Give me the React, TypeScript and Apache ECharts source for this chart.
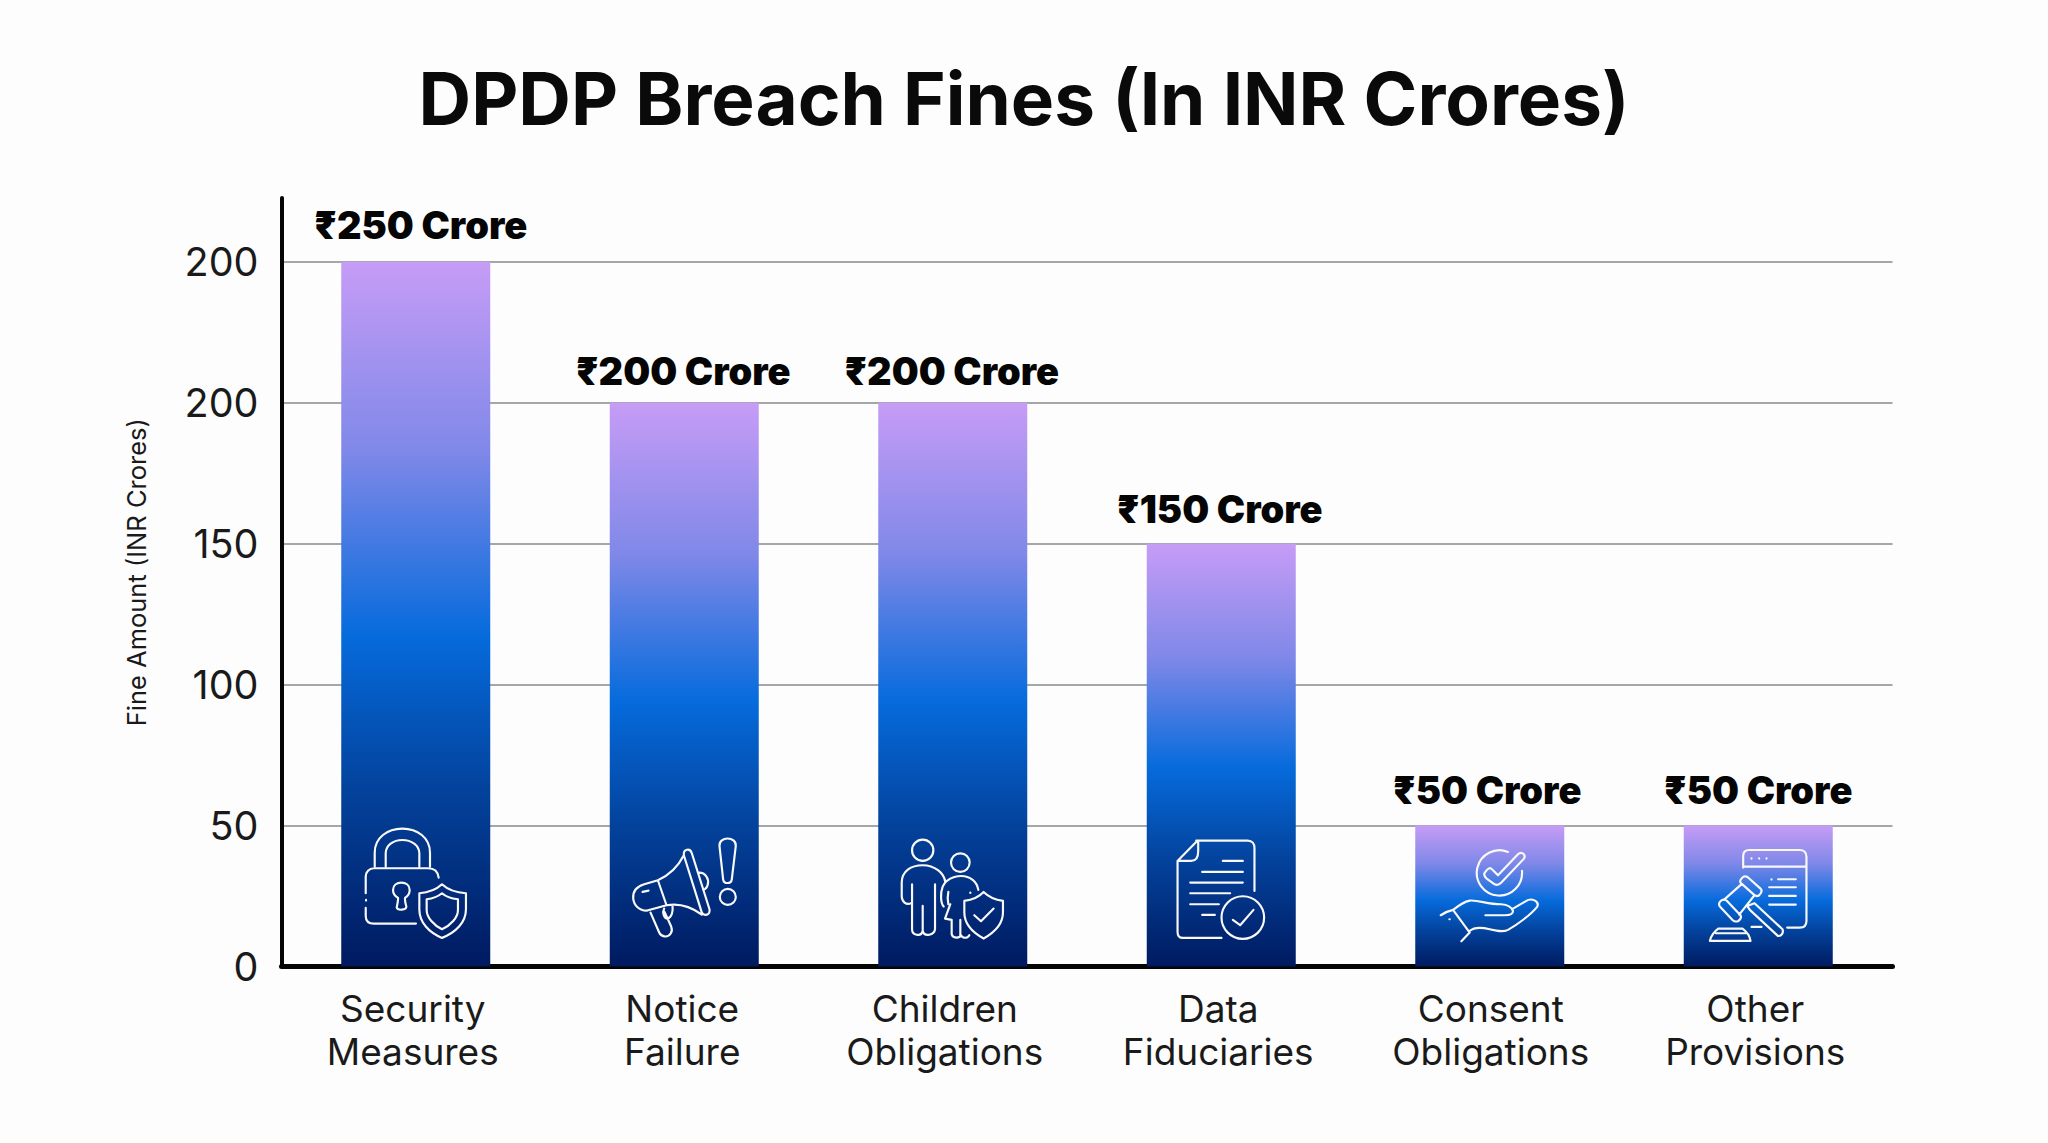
import React, { useEffect, useRef } from "react";
import * as echarts from "echarts";

const titleText = "DPDP Breach Fines (In INR Crores)";
const yAxisTitle = "Fine Amount (INR Crores)";
const categories = [
  "Security\nMeasures",
  "Notice\nFailure",
  "Children\nObligations",
  "Data\nFiduciaries",
  "Consent\nObligations",
  "Other\nProvisions",
];
const fineValues = [250, 200, 200, 150, 50, 50];
const barLabels = ["₹250 Crore", "₹200 Crore", "₹200 Crore", "₹150 Crore", "₹50 Crore", "₹50 Crore"];
const yTickLabels = ["0", "50", "100", "150", "200", "200"];
const labelNudgeX = [5, -1, -1, -1.5, -2.5, 0];
const labelNudgeY = [-5, 0, 0, -3, -4, -4];
const categoryNudgeX = [-3, -2, -8, -3, 1, -3];

const FONT = "Inter";

const iconPaths = [
  // lock with shield
  "M102 152V110C102 65 140 38 185 38C230 38 268 65 268 110V152M135 152V112C135 88 158 72 185 72C212 72 236 88 236 112V152M294 185C292 168 282 157 262 157H100C85 157 75 168 75 182V232M76 252L76 254M75 276V300C75 315 85 323 100 323H226M168 275C170 265 173 252 172 246C162 240 157 232 157 222C157 208 168 200 182 200C196 200 207 208 207 222C207 232 202 240 193 246C192 254 195 265 197 272C197 284 170 284 168 275ZM304 205C320 220 345 230 376 232V280C376 320 345 350 304 366C265 350 236 320 236 280V232C262 230 288 220 304 205ZM304 232C315 242 335 248 352 250V282C352 305 330 328 304 340C280 328 258 305 258 282V250C274 248 292 242 304 232Z",
  // megaphone with exclamation
  "M146 193C180 178 205 155 224 118M146 193L105 205C82 212 70 228 72 248C74 268 90 285 114 284L172 268C205 262 240 268 278 296M146 193L172 268M224 118C222 98 243 96 248 112L301 280C304 298 284 302 278 290ZM270 170C290 170 300 190 296 205C294 215 288 220 282 222M124 290L150 350C155 362 175 368 185 352C190 345 188 338 186 332L166 288M165 278C158 290 165 308 175 308C188 305 192 285 190 270M100 228L118 224M342 190L331 90C329 60 382 60 380 90L368 190C366 205 344 205 342 190ZM332 243A24 24 0 1 0 380 243A24 24 0 1 0 332 243Z",
  // adult, child and shield
  "M103 103A32 32 0 1 0 167 103A32 32 0 1 0 103 103ZM100 262C85 268 72 258 72 240V200C72 165 100 148 135 148C170 148 200 170 203 200M103 205V340C103 358 130 365 135 345V270M135 345C140 365 170 358 172 340V205M220 140A28 28 0 1 0 276 140A28 28 0 1 0 220 140ZM198 272C188 262 188 230 195 212C202 195 215 188 230 183C250 178 270 180 285 192C295 200 300 210 302 222M212 228C208 245 210 255 212 265M218 265L202 308L222 312V355C225 368 245 368 250 358M250 358C255 368 270 368 275 358M248 312V358M318 228C335 245 355 252 376 255V290C376 325 350 350 318 368C285 350 260 325 260 290V255C282 252 302 245 318 228ZM290 298L310 316L348 278M278 230L278 231",
  // document with check
  "M226 366H110C98 366 94 358 94 348V135L152 76M150 74H305C318 74 325 84 325 96V225M94 135H135C150 135 156 122 156 105V76M230 135H290M168 168H290M132 200H290M132 232H252M132 265H218M168 297H206M226 305A64 64 0 1 0 354 305A64 64 0 1 0 226 305ZM260 312L282 328L322 282",
  // hand with check
  "M280 108A68 68 0 1 0 322 165M212 168C205 175 210 182 215 187L240 205C250 210 255 205 260 200L328 128C335 115 320 105 310 115L250 178L232 160C225 152 218 160 212 168ZM78 298C90 290 100 285 115 282L165 350L140 376M115 282C130 270 145 258 165 254C195 252 215 265 260 265C275 266 290 272 295 285C295 295 285 298 270 298H212M295 278L335 255C350 245 375 255 368 272C350 295 310 325 280 342C265 350 245 345 225 340C205 335 180 332 165 345M104 310L105 310",
  // gavel and page
  "M180 155V120C180 108 188 102 198 102H350C362 102 370 110 370 122V315C370 328 362 335 350 335H312M180 152H370M205 127L205 128M228 127L228 128M250 127L250 128M265 190L265 191M285 190H338M258 214H338M258 240H338M258 266H338M205 333H235M172 192C178 182 186 178 194 184L232 218C238 224 234 232 228 238C222 242 216 240 212 236L176 204C170 200 170 196 172 192ZM110 258C116 250 124 248 130 254L172 298C176 306 170 312 164 316C158 318 152 316 148 312L112 274C106 268 106 264 110 258ZM176 204L122 252M214 238L168 296M192 270L214 262L298 340C302 350 295 362 284 360L200 282ZM80 375C82 362 95 345 105 338H178C192 348 200 362 202 375ZM98 352H188",
];

const gradient = () =>
  new echarts.graphic.LinearGradient(0, 0, 0, 1, [
    { offset: 0, color: "#c69cf6" },
    { offset: 0.27, color: "#7f88e8" },
    { offset: 0.53, color: "#066bdc" },
    { offset: 0.75, color: "#03429c" },
    { offset: 1, color: "#001a60" },
  ]);

export default function App() {
  const ref = useRef<HTMLDivElement>(null);
  useEffect(() => {
    const chart = echarts.init(ref.current!, null, { renderer: "svg" });
    chart.setOption({
      animation: false,
      backgroundColor: "#fdfdfd",
      textStyle: { fontFamily: FONT },
      title: {
        text: titleText,
        left: "center",
        top: 57,
        textStyle: { fontFamily: FONT, fontSize: 72.8, fontWeight: 700, color: "#0a0a0a" },
      },
      grid: { left: 281.5, right: 155.5, top: 198, bottom: 176.5, containLabel: false },
      xAxis: {
        type: "category",
        data: categories,
        axisTick: { show: false },
        axisLine: { lineStyle: { color: "#050505", width: 5 } },
        axisLabel: {
          fontFamily: FONT,
          fontSize: 37,
          lineHeight: 43,
          color: "#1a1a1a",
          margin: 20,
          interval: 0,
          formatter: (v: string, i: number) =>
            v.split("\n").map((line) => `{c${i}|${line}}`).join("\n"),
          rich: Object.fromEntries(
            categoryNudgeX.map((dx, i) => [
              `c${i}`,
              {
                fontFamily: FONT,
                fontSize: 37,
                lineHeight: 43,
                color: "#1a1a1a",
                padding: dx < 0 ? [0, -2 * dx, 0, 0] : [0, 0, 0, 2 * dx],
              },
            ]),
          ),
        },
      },
      yAxis: {
        type: "value",
        min: 0,
        max: 272.6,
        interval: 50,
        name: yAxisTitle,
        nameLocation: "middle",
        nameGap: 132,
        nameRotate: 90,
        nameTextStyle: { fontFamily: FONT, fontSize: 25.5, color: "#1a1a1a", padding: [0, 0, 0, 20] },
        axisLine: { show: true, lineStyle: { color: "#050505", width: 4 } },
        axisTick: { show: false },
        axisLabel: {
          fontFamily: FONT,
          fontSize: 39.5,
          color: "#1a1a1a",
          margin: 23,
          showMaxLabel: false,
          formatter: (_: number, i: number) => yTickLabels[i] ?? "",
        },
        splitLine: {
          show: true,
          showMinLine: false,
          showMaxLine: false,
          lineStyle: { color: "#a3a7aa", width: 2 },
        },
      },
      series: [
        {
          type: "bar",
          barWidth: 149,
          data: fineValues.map((value, i) => ({
            value,
            label: { offset: [labelNudgeX[i], labelNudgeY[i]] },
          })),
          itemStyle: { color: gradient() },
          label: {
            show: true,
            position: "top",
            distance: 13,
            fontFamily: FONT,
            fontSize: 38,
            fontWeight: 900,
            color: "#050505",
            formatter: (p: any) => barLabels[p.dataIndex],
          },
        },
        {
          type: "custom",
          silent: true,
          z: 5,
          clip: false,
          data: categories.map((c) => [c, 0]),
          encode: { x: 0, y: 1 },
          renderItem: (_: any, api: any) => {
            const idx = api.value(0);
            const [x, y] = api.coord([idx, 0]);
            return {
              type: "group",
              x: x - 75,
              y: y - 150.5,
              scaleX: 1 / 3,
              scaleY: 1 / 3,
              children: [
                {
                  type: "path",
                  shape: { pathData: iconPaths[idx] },
                  style: { fill: "none", stroke: "#f8f8f8", lineWidth: 6.5, lineCap: "round", lineJoin: "round" },
                },
              ],
            };
          },
        },
      ],
    });
    return () => chart.dispose();
  }, []);
  return <div ref={ref} style={{ position: "absolute", left: 0, top: 0, width: 2048, height: 1143 }} />;
}
